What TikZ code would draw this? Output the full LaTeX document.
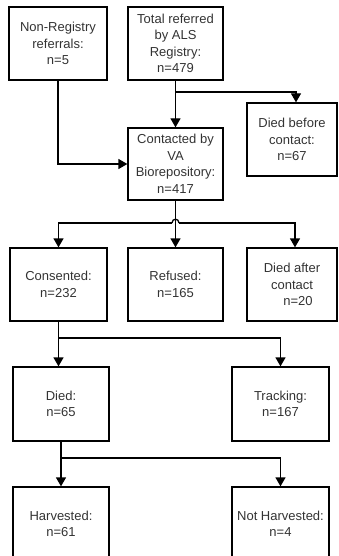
\documentclass[tikz,border=0pt]{standalone}
\usepackage{fontspec}
\setmainfont{Liberation Sans}
\usetikzlibrary{arrows.meta}
\begin{document}
\begin{tikzpicture}[x=1pt,y=-1pt,
  box/.style={draw=black,line width=1.3pt,minimum width=#1,minimum height=73pt,inner sep=0pt,
    align=center,font=\fontsize{13}{16.5}\selectfont,text=black!80},
  box/.default=97pt,
  conn/.style={line width=1.3pt},
  arr/.style={conn,-{Triangle[length=9pt,width=10pt]}}]
\useasboundingbox (0,0) rectangle (338,556);
\clip (0,0) rectangle (338,556);
\node[box=98pt] (nonreg) at (58,43.5) {Non-Registry\\referrals:\\n=5};
\node[box=95pt] (total) at (175.5,43.5) {Total referred\\by ALS\\Registry:\\n=479};
\node[box=90pt] (diedb) at (292,139.5) {Died before\\contact:\\n=67};
\node[box=95pt,minimum height=72pt] (contact) at (175.5,164) {Contacted by\\VA\\Biorepository:\\n=417};
\node[box=97pt] (consent) at (58.5,284.5) {Consented:\\n=232};
\node[box=95pt] (refused) at (175.5,284.5) {Refused:\\n=165};
\node[box=90pt] (dieda) at (292,284.5) {Died after\\contact\\\hspace*{12pt}n=20};
\node[box=96pt,minimum height=74pt] (died) at (61,404) {Died:\\n=65};
\node[box=97pt,minimum height=74pt] (tracking) at (280.5,404) {Tracking:\\n=167};
\node[box=96pt,minimum height=74pt] (harv) at (61,524) {Harvested:\\n=61};
\node[box=97pt,minimum height=74pt] (notharv) at (280.5,524) {Not Harvested:\\n=4};
% top
\coordinate (b1) at (175.5,92);
\draw[arr] (total.south) -- (contact.north);
\draw[arr] (b1) -| ([xshift=4pt]diedb.north);
\draw[arr] (nonreg.south) |- (contact.west);
% contacted split
\coordinate (j) at (175.5,223);
\draw[arr] (contact.south) -- (refused.north);
\draw[arr] ([xshift=-3.5pt]j) -| (consent.north);
\draw[arr] ([xshift=3.5pt]j) -| ([xshift=3pt]dieda.north);
\draw[conn] ([xshift=-3.5pt]j) .. controls +(0,-5) and +(0,-5) .. ([xshift=3.5pt]j);
% consented split
\coordinate (k) at (58.5,338);
\draw[arr] (consent.south) -- (consent.south |- died.north);
\draw[arr] (k) -| (tracking.north);
% died split
\coordinate (m) at (61,458);
\draw[arr] (died.south) -- (harv.north);
\draw[arr] (m) -| (notharv.north);
\end{tikzpicture}
\end{document}
